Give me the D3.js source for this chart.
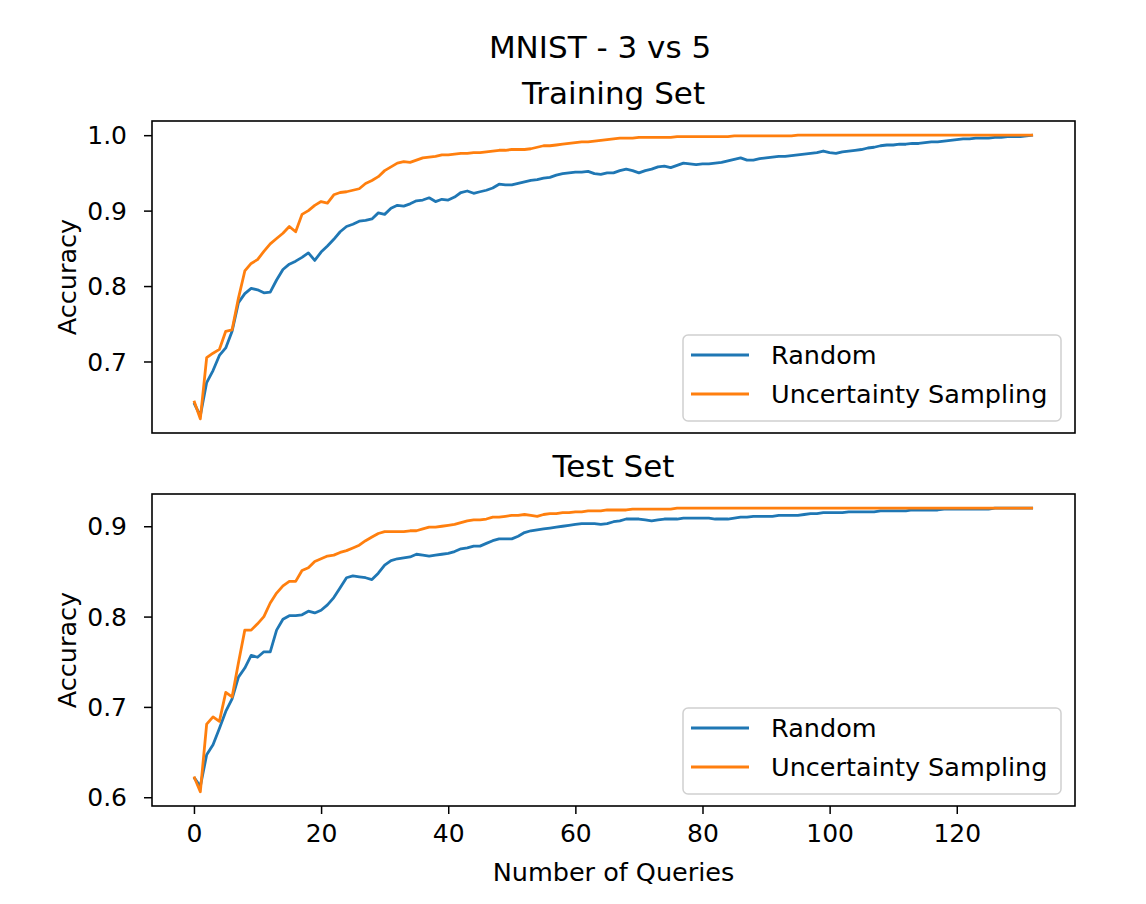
<!DOCTYPE html>
<html>
<head>
<meta charset="utf-8">
<script src="https://cdn.jsdelivr.net/npm/d3@7"></script>
<style>
  body { margin: 0; background: #fff; }
  text { font-family: "DejaVu Sans", sans-serif; fill: #000; }
</style>
</head>
<body>
<script>
var WIDTH = 1146;
var HEIGHT = 904;

// queries 0..132
var queries = d3.range(0, 133);

var trainRandom = [
  0.645, 0.628, 0.672, 0.688, 0.708, 0.718, 0.740, 0.778, 0.790, 0.797,
  0.795, 0.791, 0.792, 0.808, 0.822, 0.829, 0.833, 0.838, 0.844, 0.834,
  0.845, 0.853, 0.862, 0.872, 0.879, 0.882, 0.886, 0.887, 0.889, 0.897,
  0.895, 0.903, 0.907, 0.906, 0.909, 0.913, 0.914, 0.917, 0.912, 0.915,
  0.914, 0.918, 0.924, 0.926, 0.923, 0.925, 0.927, 0.930, 0.935, 0.934,
  0.934, 0.936, 0.938, 0.940, 0.941, 0.943, 0.944, 0.947, 0.949, 0.950,
  0.951, 0.951, 0.952, 0.949, 0.948, 0.950, 0.950, 0.953, 0.955, 0.953,
  0.950, 0.953, 0.955, 0.958, 0.959, 0.957, 0.960, 0.963, 0.962, 0.961,
  0.962, 0.962, 0.963, 0.964, 0.966, 0.968, 0.970, 0.967, 0.967, 0.969,
  0.970, 0.971, 0.972, 0.972, 0.973, 0.974, 0.975, 0.976, 0.977, 0.979,
  0.977, 0.976, 0.978, 0.979, 0.980, 0.981, 0.983, 0.984, 0.986, 0.987,
  0.987, 0.988, 0.988, 0.989, 0.989, 0.990, 0.991, 0.991, 0.992, 0.993,
  0.994, 0.995, 0.995, 0.996, 0.996, 0.996, 0.997, 0.997, 0.998, 0.998,
  0.998, 0.999, 1.000
];

var trainUncertainty = [
  0.648, 0.624, 0.705, 0.711, 0.716, 0.740, 0.742, 0.784, 0.820, 0.830,
  0.835, 0.846, 0.856, 0.863, 0.870, 0.879, 0.872, 0.895, 0.900, 0.907,
  0.912, 0.910, 0.921, 0.924, 0.925, 0.927, 0.929, 0.936, 0.940, 0.945,
  0.953, 0.958, 0.963, 0.965, 0.964, 0.967, 0.970, 0.971, 0.972, 0.974,
  0.974, 0.975, 0.976, 0.976, 0.977, 0.977, 0.978, 0.979, 0.980, 0.980,
  0.981, 0.981, 0.981, 0.982, 0.984, 0.986, 0.986, 0.987, 0.988, 0.989,
  0.990, 0.991, 0.991, 0.992, 0.993, 0.994, 0.995, 0.996, 0.996, 0.996,
  0.997, 0.997, 0.997, 0.997, 0.997, 0.997, 0.998, 0.998, 0.998, 0.998,
  0.998, 0.998, 0.998, 0.998, 0.998, 0.999, 0.999, 0.999, 0.999, 0.999,
  0.999, 0.999, 0.999, 0.999, 0.999, 1.000, 1.000, 1.000, 1.000, 1.000,
  1.000, 1.000, 1.000, 1.000, 1.000, 1.000, 1.000, 1.000, 1.000, 1.000,
  1.000, 1.000, 1.000, 1.000, 1.000, 1.000, 1.000, 1.000, 1.000, 1.000,
  1.000, 1.000, 1.000, 1.000, 1.000, 1.000, 1.000, 1.000, 1.000, 1.000,
  1.000, 1.000, 1.000
];

var testRandom = [
  0.622, 0.612, 0.647, 0.658, 0.676, 0.695, 0.709, 0.733, 0.743, 0.757,
  0.755, 0.761, 0.761, 0.785, 0.797, 0.801, 0.801, 0.802, 0.806, 0.804,
  0.807, 0.813, 0.821, 0.832, 0.843, 0.845, 0.844, 0.843, 0.841, 0.848,
  0.857, 0.862, 0.864, 0.865, 0.866, 0.869, 0.868, 0.867, 0.868, 0.869,
  0.870, 0.872, 0.875, 0.876, 0.878, 0.878, 0.881, 0.884, 0.886, 0.886,
  0.886, 0.889, 0.893, 0.895, 0.896, 0.897, 0.898, 0.899, 0.900, 0.901,
  0.902, 0.903, 0.903, 0.903, 0.902, 0.903, 0.905, 0.906, 0.908, 0.908,
  0.908, 0.907, 0.906, 0.907, 0.908, 0.908, 0.908, 0.909, 0.909, 0.909,
  0.909, 0.909, 0.908, 0.908, 0.908, 0.909, 0.910, 0.910, 0.911, 0.911,
  0.911, 0.911, 0.912, 0.912, 0.912, 0.912, 0.913, 0.914, 0.914, 0.915,
  0.915, 0.915, 0.915, 0.916, 0.916, 0.916, 0.916, 0.916, 0.917, 0.917,
  0.917, 0.917, 0.917, 0.918, 0.918, 0.918, 0.918, 0.918, 0.919, 0.919,
  0.919, 0.919, 0.919, 0.919, 0.919, 0.919, 0.920, 0.920, 0.920, 0.920,
  0.920, 0.920, 0.920
];

var testUncertainty = [
  0.623, 0.606, 0.681, 0.689, 0.684, 0.716, 0.711, 0.749, 0.785, 0.785,
  0.792, 0.800, 0.815, 0.826, 0.834, 0.839, 0.839, 0.851, 0.854, 0.861,
  0.864, 0.867, 0.868, 0.871, 0.873, 0.876, 0.879, 0.884, 0.888, 0.892,
  0.894, 0.894, 0.894, 0.894, 0.895, 0.895, 0.897, 0.899, 0.899, 0.900,
  0.901, 0.902, 0.904, 0.906, 0.907, 0.907, 0.908, 0.910, 0.910, 0.911,
  0.912, 0.912, 0.913, 0.912, 0.911, 0.913, 0.914, 0.914, 0.915, 0.915,
  0.916, 0.916, 0.917, 0.917, 0.917, 0.918, 0.918, 0.918, 0.918, 0.919,
  0.919, 0.919, 0.919, 0.919, 0.919, 0.919, 0.920, 0.920, 0.920, 0.920,
  0.920, 0.920, 0.920, 0.920, 0.920, 0.920, 0.920, 0.920, 0.920, 0.920,
  0.920, 0.920, 0.920, 0.920, 0.920, 0.920, 0.920, 0.920, 0.920, 0.920,
  0.920, 0.920, 0.920, 0.920, 0.920, 0.920, 0.920, 0.920, 0.920, 0.920,
  0.920, 0.920, 0.920, 0.920, 0.920, 0.920, 0.920, 0.920, 0.920, 0.920,
  0.920, 0.920, 0.920, 0.920, 0.920, 0.920, 0.920, 0.920, 0.920, 0.920,
  0.920, 0.920, 0.920
];

var seriesNames = ["Random", "Uncertainty Sampling"];
var colors = ["#1f77b4", "#ff7f0e"];
var xTicks = [0, 20, 40, 60, 80, 100, 120];
var trainTicks = [0.7, 0.8, 0.9, 1.0];
var testTicks = [0.6, 0.7, 0.8, 0.9];

var LEFT = 152, RIGHT = 1075;
var TICKFONT = "25px";
var LABELFONT = "25.5px";

var translate = function (x, y) {
  return "translate(" + x + "," + y + ")";
};

// matplotlib-like 5% margins
var padded = function (lo, hi) {
  var m = (hi - lo) * 0.05;
  return [lo - m, hi + m];
};

var xScale = d3.scaleLinear()
  .domain(padded(0, 132))
  .range([LEFT, RIGHT]);

var svg = d3.select("body").append("svg")
  .attr("width", WIDTH)
  .attr("height", HEIGHT);

svg.append("text")
  .attr("x", 600).attr("y", 58)
  .attr("text-anchor", "middle")
  .style("font-size", "31px")
  .text("MNIST - 3 vs 5");

var drawPanel = function (opts) {
  var all = opts.series[0].concat(opts.series[1]);
  var yScale = d3.scaleLinear()
    .domain(padded(d3.min(all), d3.max(all)))
    .range([opts.bottom, opts.top]);

  var g = svg.append("g");

  g.append("text")
    .attr("x", (LEFT + RIGHT) / 2).attr("y", opts.top - 17)
    .attr("text-anchor", "middle")
    .style("font-size", "31px")
    .text(opts.title);

  var line = d3.line()
    .x(function (d, i) { return xScale(queries[i]); })
    .y(function (d) { return yScale(d); });

  var clipId = "clip" + opts.top;
  g.append("clipPath").attr("id", clipId)
    .append("rect")
    .attr("x", LEFT).attr("y", opts.top)
    .attr("width", RIGHT - LEFT).attr("height", opts.bottom - opts.top);

  g.append("g").attr("clip-path", "url(#" + clipId + ")")
    .selectAll("path")
    .data(opts.series)
    .enter().append("path")
    .attr("d", line)
    .attr("fill", "none")
    .attr("stroke", function (d, i) { return colors[i]; })
    .attr("stroke-width", 2.8)
    .attr("stroke-linejoin", "round");

  var yAxis = d3.axisLeft(yScale)
    .tickValues(opts.ticks)
    .tickFormat(d3.format(".1f"))
    .tickSize(8).tickPadding(17);

  var ya = g.append("g")
    .attr("transform", translate(LEFT, 0))
    .call(yAxis);
  ya.select(".domain").remove();
  ya.selectAll("text").style("font-size", TICKFONT).attr("dy", "0.35em");
  ya.selectAll("line").attr("stroke-width", 1.5);

  if (opts.showX) {
    var xAxis = d3.axisBottom(xScale)
      .tickValues(xTicks)
      .tickSize(8).tickPadding(10);
    var xa = g.append("g")
      .attr("transform", translate(0, opts.bottom))
      .call(xAxis);
    xa.select(".domain").remove();
    xa.selectAll("text").style("font-size", TICKFONT);
    xa.selectAll("line").attr("stroke-width", 1.5);

    g.append("text")
      .attr("x", (LEFT + RIGHT) / 2).attr("y", opts.bottom + 75)
      .attr("text-anchor", "middle")
      .style("font-size", LABELFONT)
      .text("Number of Queries");
  }

  g.append("text")
    .attr("transform", translate(76, (opts.top + opts.bottom) / 2) + " rotate(-90)")
    .attr("text-anchor", "middle")
    .style("font-size", LABELFONT)
    .text("Accuracy");

  g.append("rect")
    .attr("x", LEFT).attr("y", opts.top)
    .attr("width", RIGHT - LEFT).attr("height", opts.bottom - opts.top)
    .attr("fill", "none")
    .attr("stroke", "#000")
    .attr("stroke-width", 1.6);

  // legend
  var lx = 683, ly = opts.bottom - 98;
  var lg = g.append("g").attr("transform", translate(lx, ly));
  lg.append("rect")
    .attr("width", 378).attr("height", 86)
    .attr("rx", 5)
    .attr("fill", "#fff").attr("fill-opacity", 0.8)
    .attr("stroke", "#d0d0d0").attr("stroke-width", 1.5);
  var items = lg.selectAll("g.item")
    .data(seriesNames)
    .enter().append("g")
    .attr("class", "item")
    .attr("transform", function (d, i) { return translate(0, 20 + i * 39); });
  items.append("line")
    .attr("x1", 8).attr("x2", 66)
    .attr("stroke", function (d, i) { return colors[i]; })
    .attr("stroke-width", 2.8);
  items.append("text")
    .attr("x", 88).attr("dy", "0.35em")
    .style("font-size", "25.5px")
    .text(function (d) { return d; });
};

drawPanel({
  top: 121, bottom: 433, title: "Training Set",
  series: [trainRandom, trainUncertainty], ticks: trainTicks, showX: false
});

drawPanel({
  top: 494, bottom: 806, title: "Test Set",
  series: [testRandom, testUncertainty], ticks: testTicks, showX: true
});
</script>
</body>
</html>
